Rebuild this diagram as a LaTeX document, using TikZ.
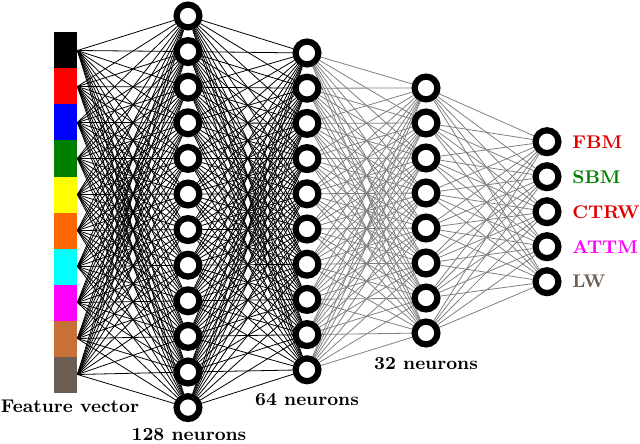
\documentclass[tikz,border=0pt]{standalone}
\usetikzlibrary{backgrounds}
\definecolor{fbrown}{HTML}{C87137}
\definecolor{fgray}{HTML}{6C5D53}
\definecolor{fgreen}{HTML}{008000}
\definecolor{forange}{HTML}{FF6600}
\definecolor{fcyan}{HTML}{00FFFF}
\definecolor{fmagenta}{HTML}{FF00FF}
\definecolor{fred}{HTML}{FF0000}
\definecolor{fblue}{HTML}{0000FF}
\definecolor{fyellow}{HTML}{FFFF00}
\definecolor{lred}{HTML}{E00000}
\begin{document}
\begin{tikzpicture}[x=0.5pt,y=-0.5pt,
 neuron/.style={circle,draw=black,line width=3.1pt,fill=white,minimum size=11.4pt,inner sep=0pt},
 feat/.style={rectangle,inner sep=0pt,minimum width=11.5pt,minimum height=18pt,draw=none},
 dark/.style={black,line width=0.4pt},
 light/.style={gray,line width=0.4pt},
 lbl/.style={font=\fontsize{9.2}{11}\selectfont\bfseries},
 ]
\useasboundingbox (0,0) rectangle (640,443);
\foreach \c [count=\i] in {black,fred,fblue,fgreen,fyellow,forange,fcyan,fmagenta,fbrown,fgray}
  \node[feat,fill=\c] (f\i) at (65.5,{50.5+36*(\i-1)}) {};
\foreach \j in {1,...,12} \node[neuron] (a\j) at (188,{16+35.6*(\j-1)}) {};
\foreach \j in {1,...,10} \node[neuron] (b\j) at (307,{53+35.2*(\j-1)}) {};
\foreach \j in {1,...,8} \node[neuron] (c\j) at (426,{88+35*(\j-1)}) {};
\foreach \j in {1,...,5} \node[neuron] (d\j) at (547,{141.7+35*(\j-1)}) {};
\begin{scope}[on background layer]
 \foreach \i in {1,...,10} \foreach \j in {1,...,12} \draw[dark] (f\i.east) -- (a\j);
 \foreach \i in {1,...,12} \foreach \j in {1,...,10} \draw[dark] (a\i) -- (b\j);
 \foreach \i in {1,...,10} \foreach \j in {1,...,8} \draw[light] (b\i) -- (c\j);
 \foreach \i in {1,...,8} \foreach \j in {1,...,5} \draw[light] (c\i) -- (d\j);
\end{scope}
\foreach \t/\c [count=\i] in {FBM/lred,SBM/fgreen,CTRW/lred,ATTM/fmagenta,LW/fgray}
  \node[lbl,text=\c,anchor=west,inner sep=0pt] (o\i) at (572,{141.7+35*(\i-1)}) {\t};
\node[lbl,inner sep=0pt] (lf) at (70,406) {Feature vector};
\node[lbl,inner sep=0pt] (l1) at (189,435) {128 neurons};
\node[lbl,inner sep=0pt] (l2) at (307,400) {64 neurons};
\node[lbl,inner sep=0pt] (l3) at (426,364) {32 neurons};
\end{tikzpicture}
\end{document}
